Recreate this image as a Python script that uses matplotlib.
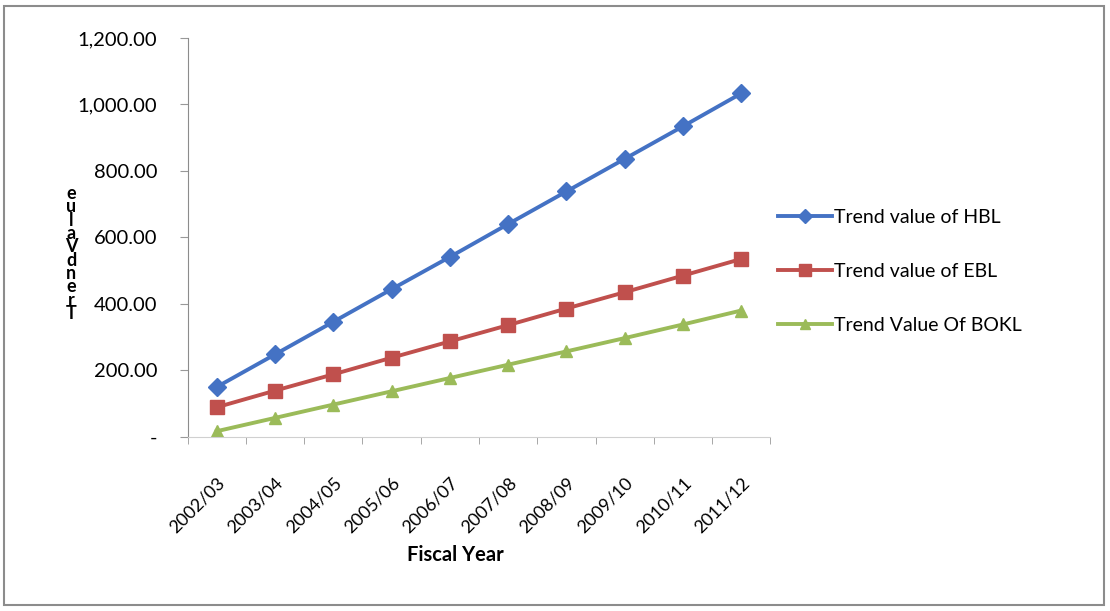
import numpy as np
import matplotlib.pyplot as plt
from matplotlib.patches import Rectangle
from matplotlib.ticker import FuncFormatter

plt.rcParams['font.family'] = ['Lato', 'DejaVu Sans']

years = ['2002/03', '2003/04', '2004/05', '2005/06', '2006/07',
         '2007/08', '2008/09', '2009/10', '2010/11', '2011/12']
hbl = [150, 248, 346, 444, 541, 640, 738, 836, 934, 1033]
ebl = [89, 139, 188, 238, 287, 336, 386, 435, 485, 535]
bokl = [17, 57, 97, 137, 177, 217, 257, 297, 338, 380]

series = [
    ('Trend value of HBL', hbl, '#4472C4', 'D', 9),
    ('Trend value of EBL', ebl, '#C0504D', 's', 10),
    ('Trend Value Of BOKL', bokl, '#9BBB59', '^', 9),
]


def acct(v, pos):
    # accounting style: zero shows as a dash
    if v == 0:
        return '-'
    return '{:,.2f}'.format(v)


fig = plt.figure(figsize=(11.1, 6.11), dpi=100)
ax = fig.add_axes([0.169, 0.285, 0.525, 0.653])

x = np.arange(len(years))
for name, vals, cl, mk, ms in series:
    ax.plot(x, vals, color=cl, lw=2.8, marker=mk, ms=ms, label=name)

ax.set_xlim(-0.5, len(years) - 0.5)
ax.set_ylim(0, 1200)
ax.set_yticks(np.arange(0, 1201, 200))
ax.yaxis.set_major_formatter(FuncFormatter(acct))

ax.set_xticks(x)
ax.set_xticklabels(years, rotation=45, ha='right', rotation_mode='anchor', fontsize=13)
ax.set_xticks(np.arange(-0.5, len(years)), minor=True)
ax.tick_params(axis='x', which='major', length=0, pad=27)
ax.tick_params(axis='x', which='minor', length=5, color='#999999', direction='out')
ax.tick_params(axis='y', length=6, color='#999999', labelsize=14.5, pad=16)

for side in ['top', 'right']:
    ax.spines[side].set_visible(False)
ax.spines['left'].set_color('#8c8c8c')
ax.spines['bottom'].set_color('#d0d0d0')

fig.text(0.41, 0.092, 'Fiscal Year', fontsize=14.5, fontweight='bold',
         ha='center', va='center')

# vertical stacked axis title
fig.text(0.064, 0.585, '\n'.join('Trend Value'[::-1].replace(' ', '')),
         fontsize=13, fontweight='bold', linespacing=0.74,
         ha='center', va='center')

ax.legend(loc='center left', bbox_to_anchor=(0.685, 0.556), bbox_transform=fig.transFigure,
          frameon=False, fontsize=14, handlelength=2.8, handletextpad=0.1,
          labelspacing=1.9, markerscale=0.8)

fig.patches.append(Rectangle((0.004, 0.01), 0.991, 0.98, transform=fig.transFigure,
                             fill=False, edgecolor='#8c8c8c', lw=1.5))

plt.savefig('out.png')
plt.close()
